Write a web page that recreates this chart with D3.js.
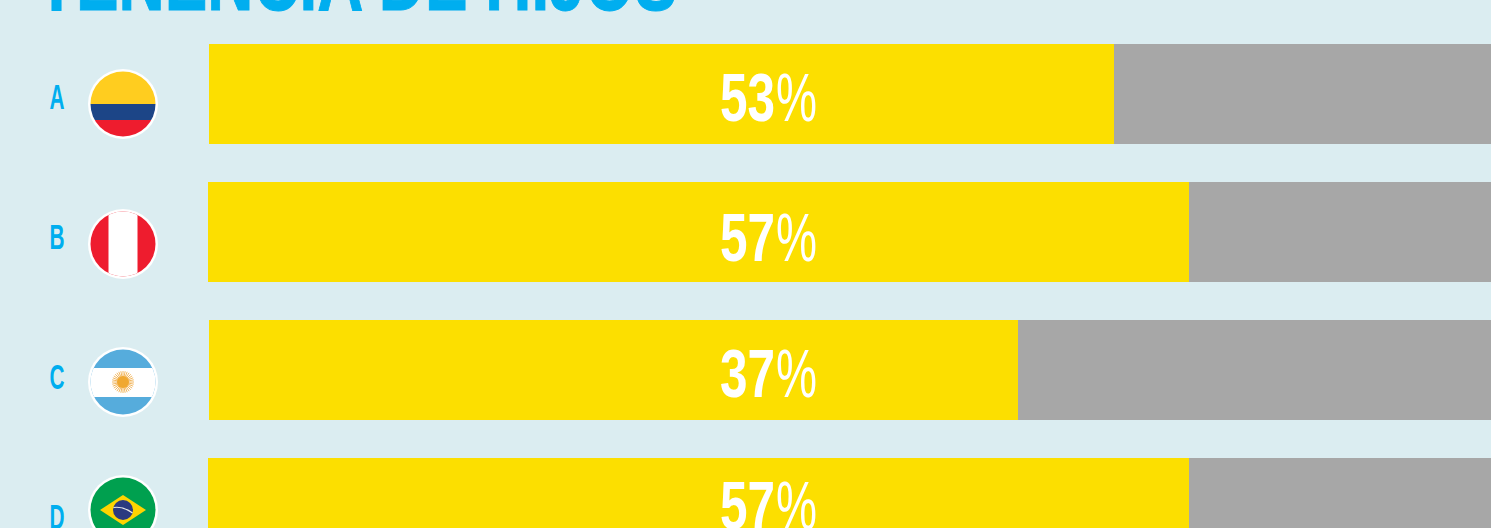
<!DOCTYPE html>
<html>
<head>
<meta charset="utf-8">
<script src="https://cdn.jsdelivr.net/npm/d3@7"></script>
<style>
  html, body { margin: 0; padding: 0; background: #dbedf1; overflow: hidden; }
  text { font-family: "Liberation Sans Narrow", "Liberation Sans", sans-serif; font-weight: 700; }
</style>
</head>
<body>
<div id="chart"></div>
<script>
const categories = ["A", "B", "C", "D"];
const flags = ["colombia", "peru", "argentina", "brazil"];
const percentLabels = ["53", "57", "37", "57"];
// bar lengths as drawn, the C bar is longer than its 37% label
const barValues = [52.8, 57.2, 47.25, 57.2];
const barStarts = [0.06, 0, 0.06, 0];
const flagShift = [10, 12, 12, 2];
const labelShift = [27, 29, 27, 21];

const width = 1491;
const height = 528;
const blue = "#00aeef";

const svg = d3.select("#chart").append("svg").attr("width", width).attr("height", height);
const defs = svg.append("defs");

svg.append("text")
  .attr("x", 37)
  .attr("y", 9.5)
  .attr("font-size", 88)
  .attr("fill", blue)
  .attr("stroke", blue)
  .attr("stroke-width", 1)
  .attr("textLength", 640)
  .attr("lengthAdjust", "spacingAndGlyphs")
  .text("TENENCIA DE HIJOS");

const x = d3.scaleLinear().domain([0, 100]).rangeRound([208, 1923]);
const y = d3.scaleBand().domain(categories).range([44, 558]).paddingInner(38 / 138);
const letterY = d3.scalePoint().domain(categories).range([97, 517]);

const rows = svg.selectAll("g.row")
  .data(categories)
  .join("g")
  .attr("class", "row");

rows.append("rect")
  .attr("x", (d, i) => x(barStarts[i]))
  .attr("y", d => y(d))
  .attr("width", (d, i) => x(100) - x(barStarts[i]))
  .attr("height", y.bandwidth())
  .attr("fill", "#a7a7a7");

rows.append("rect")
  .attr("x", (d, i) => x(barStarts[i]))
  .attr("y", d => y(d))
  .attr("width", (d, i) => x(barValues[i]) - x(barStarts[i]))
  .attr("height", y.bandwidth())
  .attr("fill", "#fcdf00");

// digits and the thin percent sign are separate texts
rows.append("text")
  .attr("x", 720)
  .attr("y", (d, i) => y(d) + y.bandwidth() / 2 + labelShift[i])
  .attr("font-size", 68)
  .attr("fill", "#fff")
  .attr("textLength", 55)
  .attr("lengthAdjust", "spacingAndGlyphs")
  .text((d, i) => percentLabels[i]);

rows.append("text")
  .attr("x", 776)
  .attr("y", (d, i) => y(d) + y.bandwidth() / 2 + labelShift[i])
  .attr("font-size", 68)
  .style("font-weight", 400)
  .attr("fill", "#fff")
  .attr("textLength", 41)
  .attr("lengthAdjust", "spacingAndGlyphs")
  .text("%");

rows.append("text")
  .attr("x", 57)
  .attr("y", d => letterY(d) + 12)
  .attr("text-anchor", "middle")
  .attr("font-size", 35)
  .attr("fill", blue)
  .attr("textLength", 15)
  .attr("lengthAdjust", "spacingAndGlyphs")
  .text(d => d);

// flags, drawn around 0,0 inside a circle of radius 32.5
const flagR = 32.5;
defs.append("clipPath").attr("id", "flag-clip").append("circle").attr("r", flagR);

const flag = rows.append("g")
  .attr("transform", (d, i) => `translate(123,${y(d) + y.bandwidth() / 2 + flagShift[i]})`);

flag.append("circle").attr("r", flagR + 2.5).attr("fill", "#fff");
const inner = flag.append("g").attr("clip-path", "url(#flag-clip)");

const stripe = (g, px, py, w, h, fill) =>
  g.append("rect").attr("x", px).attr("y", py).attr("width", w).attr("height", h).attr("fill", fill);

inner.each(function(d, i) {
  const g = d3.select(this);
  const name = flags[i];
  if (name === "colombia") {
    stripe(g, -35, -35, 70, 35, "#ffcd1f");
    stripe(g, -35, 0, 70, 16, "#1c4587");
    stripe(g, -35, 16, 70, 19, "#ee1c2e");
  } else if (name === "peru") {
    stripe(g, -35, -35, 70, 70, "#ee1c2e");
    stripe(g, -14.5, -35, 29, 70, "#fff");
  } else if (name === "argentina") {
    stripe(g, -35, -35, 70, 70, "#56acdc");
    stripe(g, -35, -14, 70, 29, "#fff");
    const rays = d3.range(32).map(k => k / 32 * 2 * Math.PI);
    g.selectAll("line.ray").data(rays).join("line")
      .attr("class", "ray")
      .attr("x2", a => 11 * Math.cos(a))
      .attr("y2", a => 11 * Math.sin(a))
      .attr("stroke", "#f0b050")
      .attr("stroke-width", 0.9);
    g.append("circle").attr("r", 6).attr("fill", "#f0a830");
  } else {
    stripe(g, -35, -35, 70, 70, "#00a04f");
    g.append("path").attr("d", "M-23,0L0,-15L23,0L0,15Z").attr("fill", "#ffd400");
    g.append("circle").attr("r", 10).attr("fill", "#2b3a80");
    g.append("path").attr("d", "M-9.5,-2.5Q0,-4 9.5,3").attr("fill", "none").attr("stroke", "#e8e8e8").attr("stroke-width", 1.2);
  }
});
</script>
</body>
</html>
